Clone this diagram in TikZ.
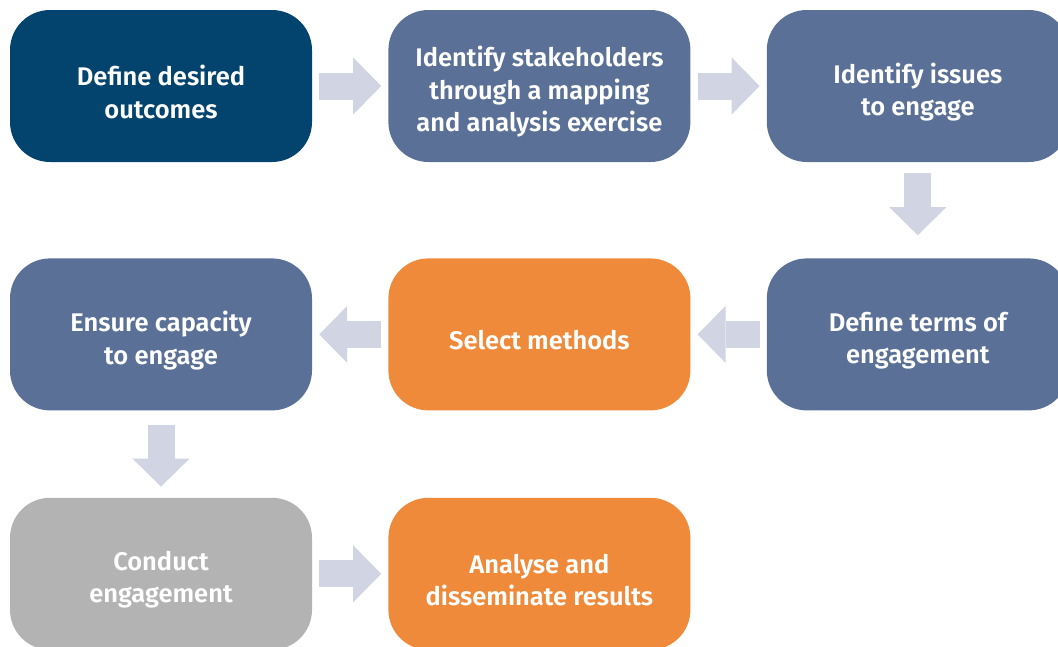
\documentclass[tikz,border=0pt]{standalone}
\usepackage{fontspec}
\setmainfont{Fira Sans}[BoldFont={Fira Sans SemiBold}]
\usetikzlibrary{positioning,arrows.meta}
\definecolor{navy}{HTML}{03446F}
\definecolor{slate}{HTML}{5A7096}
\definecolor{tangerine}{HTML}{EF8A3A}
\definecolor{stone}{HTML}{B3B3B3}
\definecolor{mist}{HTML}{D0D4E3}
\tikzset{
  stepbox/.style={fill=#1, rounded corners=40pt, minimum width=302pt, minimum height=152pt},
  steptext/.style={yshift=-6pt, inner sep=0pt, align=center, text=white,
    font=\bfseries\fontsize{25.5}{32.5}\selectfont},
  flow/.style={draw=mist, line width=27pt, -{Triangle[length=28pt,width=57pt,line width=0pt]},
    shorten <=7pt, shorten >=7pt}
}
\begin{document}
\begin{tikzpicture}[x=1pt,y=-1pt]
\useasboundingbox (0,0) rectangle (1058,646);
\clip (0,0) rectangle (1058,646);
\node[stepbox=navy, label={[steptext]center:Define desired\\outcomes}] at (161,86) (define) {};
\node[stepbox=slate, right=76pt of define,
  label={[steptext]center:Identify stakeholders\\through a mapping\\and analysis exercise}] (stake) {};
\node[stepbox=slate, right=76pt of stake, label={[steptext]center:Identify issues\\to engage}] (issues) {};
\node[stepbox=slate, below=96pt of issues, label={[steptext]center:Define terms of\\engagement}] (terms) {};
\node[stepbox=tangerine, left=76pt of terms, label={[steptext]center:Select methods}] (methods) {};
\node[stepbox=slate, left=76pt of methods, label={[steptext]center:Ensure capacity\\to engage}] (capacity) {};
\node[stepbox=stone, below=87pt of capacity, label={[steptext]center:Conduct\\engagement}] (conduct) {};
\node[stepbox=tangerine, right=76pt of conduct, label={[steptext]center:Analyse and\\disseminate results}] (results) {};
\draw[flow] (define) -- (stake);
\draw[flow] (stake) -- (issues);
\draw[flow, shorten <=11pt, shorten >=23pt] (issues) -- (terms);
\draw[flow] (terms) -- (methods);
\draw[flow] (methods) -- (capacity);
\draw[flow, shorten <=14pt, shorten >=11pt] (capacity) -- (conduct);
\draw[flow] (conduct) -- (results);
\end{tikzpicture}
\end{document}
